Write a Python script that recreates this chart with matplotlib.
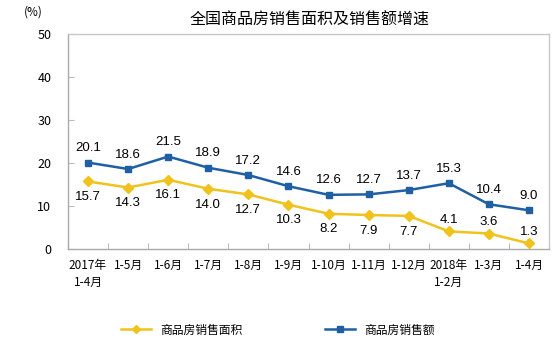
import matplotlib
matplotlib.use("Agg")
import matplotlib.pyplot as plt
import numpy as np

plt.rcParams['font.family'] = ['Noto Sans CJK SC', 'DejaVu Sans']

periods = ["2017年\n1-4月", "1-5月", "1-6月", "1-7月", "1-8月", "1-9月",
           "1-10月", "1-11月", "1-12月", "2018年\n1-2月", "1-3月", "1-4月"]
area_growth = [15.7, 14.3, 16.1, 14.0, 12.7, 10.3, 8.2, 7.9, 7.7, 4.1, 3.6, 1.3]
sales_growth = [20.1, 18.6, 21.5, 18.9, 17.2, 14.6, 12.6, 12.7, 13.7, 15.3, 10.4, 9.0]
series_names = ["商品房销售面积", "商品房销售额"]

yellow = "#F0C31C"
blue = "#1F5FA3"

fig = plt.figure(figsize=(5.56, 3.5), dpi=100)
ax = fig.add_axes([68 / 556, 101 / 350, 481 / 556, 215 / 350])

x = np.arange(len(periods))
ax.plot(x, area_growth, color=yellow, lw=1.8, marker="D", ms=5,
        label=series_names[0])
ax.plot(x, sales_growth, color=blue, lw=1.8, marker="s", ms=5,
        label=series_names[1])

# area labels sit below the line, except the last three which are near the axis
for i, (xi, v) in enumerate(zip(x, area_growth)):
    if i >= 9:
        ax.annotate(f"{v:.1f}", (xi, v), xytext=(0, 4), textcoords="offset points",
                    ha="center", va="bottom", fontsize=9.5, family="Liberation Sans")
    else:
        ax.annotate(f"{v:.1f}", (xi, v), xytext=(0, -7), textcoords="offset points",
                    ha="center", va="top", fontsize=9.5, family="Liberation Sans")
for xi, v in zip(x, sales_growth):
    ax.annotate(f"{v:.1f}", (xi, v), xytext=(0, 6), textcoords="offset points",
                ha="center", va="bottom", fontsize=9.5, family="Liberation Sans")

ax.set_xlim(-0.5, len(periods) - 0.5)
ax.set_ylim(0, 50)
ax.set_yticks(range(0, 51, 10))
ax.set_xticks(np.arange(len(periods) + 1) - 0.5, minor=False)
ax.set_xticklabels([])
ax.set_xticks(x, minor=True)
ax.set_xticklabels(periods, minor=True, fontsize=8.5, linespacing=1.4)
ax.tick_params(axis="x", which="major", direction="in", length=4, color="#BBBBBB")
ax.tick_params(axis="x", which="minor", length=0, pad=7)
ax.tick_params(axis="y", direction="in", length=4, color="#BBBBBB", labelsize=9, pad=12)

for s in ax.spines.values():
    s.set_color("#C8C8C8")
    s.set_linewidth(1.0)
ax.spines["left"].set_color("#AAAAAA")
ax.spines["bottom"].set_color("#AAAAAA")

fig.text(310 / 556, 1 - 20 / 350, "全国商品房销售面积及销售额增速",
         ha="center", va="center", fontsize=11.5)
fig.text(33 / 556, 1 - 12 / 350, "(%)", ha="center", va="center", fontsize=8.5)

fig.legend(loc="center", bbox_to_anchor=(0.5, 1 - 330 / 350), ncol=2,
           frameon=False, fontsize=8.5, columnspacing=7, handlelength=2.5,
           markerscale=0.8)

fig.savefig("out.png", dpi=100)
